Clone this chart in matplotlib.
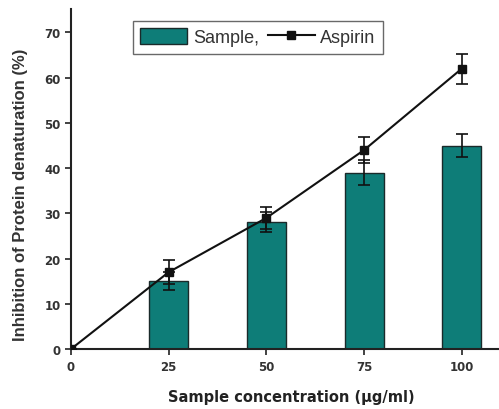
import matplotlib
matplotlib.use("Agg")
import matplotlib.pyplot as plt
from matplotlib.lines import Line2D
from matplotlib.patches import Patch

conc = [25, 50, 75, 100]
sample = [15, 28, 39, 45]
sample_err = [2.0, 2.2, 2.7, 2.6]
asp_x = [0, 25, 50, 75, 100]
aspirin = [0, 17, 29, 44, 62]
aspirin_err = [0, 2.6, 2.5, 2.8, 3.3]
xticks = [0, 25, 50, 75, 100]
yticks = [0, 10, 20, 30, 40, 50, 60, 70]

teal = "#0e7d78"
fig = plt.figure(figsize=(4.99, 4.10), dpi=100)
ax = fig.add_axes([0.142, 0.146, 0.858, 0.83])

ax.bar(conc, sample, width=10, color=teal, edgecolor="#1a2a2a", linewidth=1.0, zorder=2)
ax.errorbar(conc, sample, yerr=sample_err, fmt="none", ecolor="#111111", elinewidth=1.2,
            capsize=4, capthick=1.2, zorder=3)
ax.errorbar(asp_x, aspirin, yerr=aspirin_err, fmt="-s", color="#111111", ms=6,
            lw=1.5, elinewidth=1.2, capsize=4, capthick=1.2, zorder=4)

ax.set_xlim(0, 109.5)
ax.set_ylim(0, 75.2)
ax.set_xticks(xticks)
ax.set_yticks(yticks)
for s in ["top", "right"]:
    ax.spines[s].set_visible(False)
for s in ["left", "bottom"]:
    ax.spines[s].set_linewidth(1.5)
    ax.spines[s].set_color("#222222")
ax.tick_params(direction="out", length=4, width=1.2, colors="#222222",
               labelcolor="#333333", labelsize=8.5)
for lab in ax.get_xticklabels() + ax.get_yticklabels():
    lab.set_fontweight("bold")

ax.set_xlabel("Sample concentration (µg/ml)", fontsize=10.5, fontweight="bold",
              color="#222222")
ax.xaxis.set_label_coords(0.514, -0.117)
ax.set_ylabel("Inhibition of Protein denaturation (%)", fontsize=12, fontweight="bold",
              family="Liberation Sans", color="#333333")
ax.yaxis.set_label_coords(-0.10, 0.456)

handles = [Patch(facecolor=teal, edgecolor="#1a2a2a", linewidth=1.0),
           Line2D([], [], color="#111111", marker="s", ms=6, lw=1.5)]
leg = ax.legend(handles, ["Sample,", "Aspirin"], ncol=2, loc="upper center",
                bbox_to_anchor=(0.437, 0.975), frameon=True, fancybox=False,
                edgecolor="#444444", handlelength=2.6, handleheight=1.0,
                columnspacing=0.5, handletextpad=0.3, borderpad=0.4,
                borderaxespad=0.2,
                prop={"family": "Liberation Sans", "size": 13})
leg.get_frame().set_linewidth(1.0)
for t in leg.get_texts():
    t.set_color("#333333")

fig.savefig("out.png", dpi=100)
